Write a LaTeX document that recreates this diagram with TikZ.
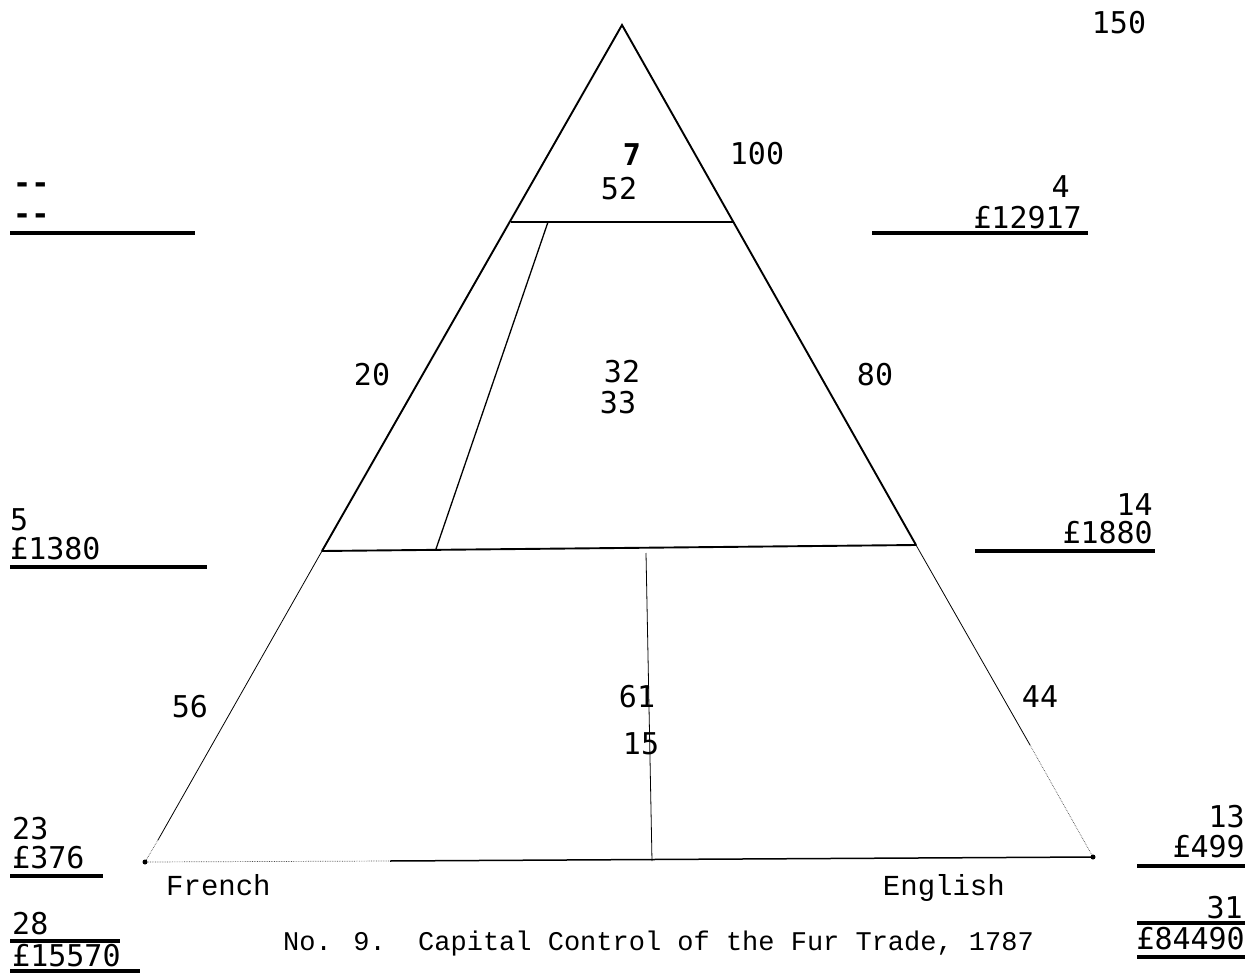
\documentclass[tikz,border=0pt]{standalone}
\usepackage{fontspec}
\newfontfamily\numf{DejaVu Sans Mono}
\newfontfamily\capf{Liberation Mono}
\begin{document}
\begin{tikzpicture}[x=1pt,y=-1pt,
  num/.style={font=\numf\fontsize{30}{30}\selectfont, inner sep=0pt},
  typ/.style={font=\capf\fontsize{27}{27}\selectfont, inner sep=0pt},
  lab/.style={font=\capf\fontsize{29}{29}\selectfont, inner sep=0pt},
  ul/.style={line width=3.2pt},
  edgeline/.style={line width=1.9pt},
  thinline/.style={line width=0.8pt},
  faint/.style={line width=0.7pt, densely dotted, black!70}]
\useasboundingbox (0,0) rectangle (1254,974);
% triangle vertices and points
\coordinate (apex) at (622,25);
\coordinate (tl) at (511,222);
\coordinate (tr) at (734,222);
\coordinate (ml) at (322,551);
\coordinate (mr) at (916,545);
\coordinate (lf) at (158,840);
\coordinate (bl) at (145,862);
\coordinate (rf) at (1030,745);
\coordinate (br) at (1093,857);
\coordinate (bx) at (390,861);
\coordinate (sa) at (548,222);
\coordinate (sb) at (436,549);
\coordinate (va) at (646,553);
\coordinate (vb) at (652,861);
% edges
\draw[edgeline] (ml) -- (apex) -- (mr);
\draw[thinline] (ml) -- (lf);
\draw[faint] (lf) -- (bl);
\draw[thinline] (mr) -- (rf);
\draw[faint] (rf) -- (br);
\draw[edgeline] (tl) -- (tr);
\draw[edgeline] (ml) -- (mr);
\draw[line width=1.3pt] (sa) -- (sb);
\draw[thinline] (va) -- (vb);
\draw[faint] (bl) -- (bx);
\draw[line width=1.5pt] (bx) -- (br);
\fill (bl) circle (2.5);
\fill (br) circle (2.5);
% inner labels
\node[num] (n150) at (1119,23) {150};
\node[num] (n7) at (632,155) {\bfseries 7};
\node[num] (n52) at (619,189) {52};
\node[num] (n100) at (757,154) {100};
\node[num] (n20) at (372,375) {20};
\node[num] (n32) at (622,372) {32};
\node[num] (n33) at (618,403) {33};
\node[num] (n80) at (875,375) {80};
\node[num] (n56) at (190,707) {56};
\node[num] (n61) at (637,697) {61};
\node[num] (n15) at (641,744) {15};
\node[num] (n44) at (1040,697) {44};
% left column
\node[num, anchor=west] (d1) at (13,188) {\bfseries -\mbox{}-};
\node[num, anchor=west] (d2) at (13,219) {\bfseries -\mbox{}-};
\coordinate (u1a) at (10,233); \coordinate (u1b) at (195,233);
\draw[ul] (u1a) -- (u1b);
\node[num, anchor=west] (n5) at (10,520) {5};
\node[num, anchor=west] (n1380) at (10,549) {£1380};
\coordinate (u2a) at (10,567); \coordinate (u2b) at (207,567);
\draw[ul] (u2a) -- (u2b);
\node[num, anchor=west] (n23) at (12,829) {23};
\node[num, anchor=west] (n376) at (12,858) {£376};
\coordinate (u3a) at (10,876); \coordinate (u3b) at (103,876);
\draw[ul] (u3a) -- (u3b);
\node[num, anchor=west] (n28) at (12,924) {28};
\coordinate (u4a) at (10,941); \coordinate (u4b) at (120,941);
\draw[ul] (u4a) -- (u4b);
\node[num, anchor=west] (n15570) at (12,956) {£15570};
\coordinate (u5a) at (10,971); \coordinate (u5b) at (140,971);
\draw[ul] (u5a) -- (u5b);
% right column
\node[num, anchor=east] (n4) at (1070,187) {4};
\node[num, anchor=east] (n12917) at (1082,218) {£12917};
\coordinate (r1a) at (872,233); \coordinate (r1b) at (1088,233);
\draw[ul] (r1a) -- (r1b);
\node[num, anchor=east] (n14) at (1153,505) {14};
\node[num, anchor=east] (n1880) at (1153,533) {£1880};
\coordinate (r2a) at (975,551); \coordinate (r2b) at (1155,551);
\draw[ul] (r2a) -- (r2b);
\node[num, anchor=east] (n13) at (1245,817) {13};
\node[num, anchor=east] (n499) at (1245,847) {£499};
\coordinate (r3a) at (1137,866); \coordinate (r3b) at (1245,866);
\draw[ul] (r3a) -- (r3b);
\node[num, anchor=east] (n31) at (1243,908) {31};
\coordinate (r4a) at (1137,923); \coordinate (r4b) at (1245,923);
\draw[ul] (r4a) -- (r4b);
\node[num, anchor=east] (n84490) at (1245,939) {£84490};
\coordinate (r5a) at (1137,957); \coordinate (r5b) at (1245,957);
\draw[ul] (r5a) -- (r5b);
% captions
\node[lab, anchor=base west] (french) at (166,895) {French};
\node[lab, anchor=base east] (english) at (1005,895) {English};
\node[typ, anchor=base west] (caption) at (283,950) {No. 9.\ \ Capital Control of the Fur Trade, 1787};
\end{tikzpicture}
\end{document}
